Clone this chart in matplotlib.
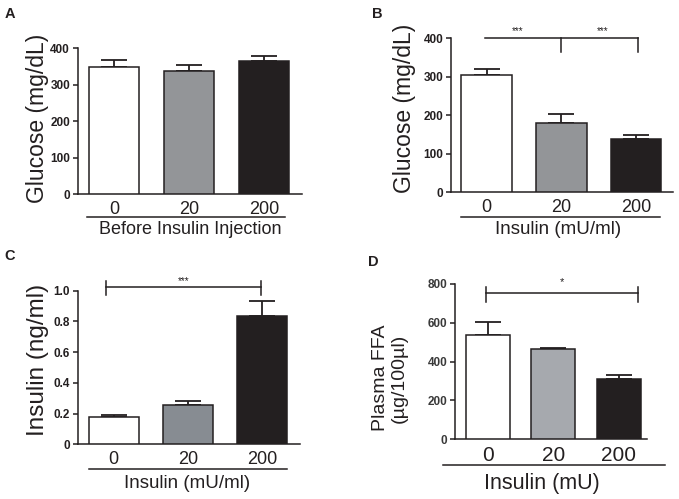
import matplotlib
matplotlib.use("Agg")
import matplotlib.pyplot as plt
from matplotlib.lines import Line2D

plt.rcParams['font.family'] = ['Liberation Sans', 'DejaVu Sans']

# Values
doses = ["0", "20", "200"]

glucose_before = [348, 337, 366]
glucose_before_err = [21, 18, 13]

glucose_after = [305, 179, 139]
glucose_after_err = [16, 24, 10]

insulin_level = [0.176, 0.254, 0.837]
insulin_level_err = [0.017, 0.030, 0.096]

plasma_ffa = [538, 464, 310]
plasma_ffa_err = [66, 7, 20]

W, H = 679, 499
INK = "#231f20"


def fx(x):
    return x / W


def fy(y):
    return 1 - y / H


def make_axes(fig, left, top, right, bottom):
    return fig.add_axes([fx(left), fy(bottom), (right - left) / W, (bottom - top) / H])


def bar_panel(ax, vals, errs, grey, ylim, yticks, yticklabels, xlim, width, tick_fs, tickcol=INK):
    x = range(len(vals))
    ax.bar(x, vals, width=width, color=["white", grey, INK], edgecolor=INK, linewidth=1.1, zorder=3)
    ax.errorbar(x, vals, yerr=[[0] * len(errs), errs], fmt="none", ecolor=INK,
                elinewidth=1.3, capsize=9.4, capthick=1.3, zorder=2)
    ax.set_ylim(*ylim)
    ax.set_xlim(*xlim)
    ax.set_yticks(yticks)
    ax.set_yticklabels(yticklabels, fontsize=8.5, fontweight="bold", color=tickcol)
    ax.set_xticks(list(x))
    ax.set_xticklabels(doses, fontsize=tick_fs, color=INK)
    ax.tick_params(axis="x", length=0, pad=5)
    ax.tick_params(axis="y", length=3.5, width=1.1, pad=2, color=INK)
    for s in ["top", "right"]:
        ax.spines[s].set_visible(False)
    for s in ["left", "bottom"]:
        ax.spines[s].set_linewidth(1.1)
        ax.spines[s].set_color(INK)


def hline(fig, x0, x1, y):
    fig.add_artist(Line2D([fx(x0), fx(x1)], [fy(y), fy(y)], color=INK, linewidth=1.1,
                          transform=fig.transFigure))


fig = plt.figure(figsize=(6.79, 4.99), dpi=100)

# Panel A
axA = make_axes(fig, 77.7, 48.3, 301.7, 194.3)
bar_panel(axA, glucose_before, glucose_before_err, "#939598", (0, 400),
          [0, 100, 200, 300, 400], ["0", "100", "200", "300", "400"],
          (-0.484, 2.503), 0.667, 13)
hline(fig, 87, 285, 217)
fig.text(fx(190), fy(230), "Before Insulin Injection", ha="center", va="center", fontsize=13, color=INK)
fig.text(fx(38), fy(118), "Glucose (mg/dL)", ha="center", va="center", rotation=90, fontsize=16.5, color=INK)
fig.text(fx(5), fy(14), "A", ha="left", va="center", fontsize=10.5, fontweight="bold", color=INK)

# Panel B
axB = make_axes(fig, 451, 38.3, 673, 192.3)
bar_panel(axB, glucose_after, glucose_after_err, "#939598", (0, 400),
          [0, 100, 200, 300, 400], ["0", "100", "200", "300", "400"],
          (-0.475, 2.495), 0.678, 13)
axB.plot([-0.02, 2.03], [400, 400], color=INK, linewidth=1.1, clip_on=False, zorder=4)
axB.plot([1, 1], [400, 364], color=INK, linewidth=1.1, clip_on=False, zorder=4)
axB.plot([2.03, 2.03], [400, 364], color=INK, linewidth=1.1, clip_on=False, zorder=4)
axB.text(0.41, 405, "***", ha="center", va="bottom", fontsize=7, color=INK)
axB.text(1.56, 405, "***", ha="center", va="bottom", fontsize=7, color=INK)
hline(fig, 461, 660, 217)
fig.text(fx(558), fy(230), "Insulin (mU/ml)", ha="center", va="center", fontsize=13.5, color=INK)
fig.text(fx(405), fy(108), "Glucose (mg/dL)", ha="center", va="center", rotation=90, fontsize=16.5, color=INK)
fig.text(fx(372), fy(14), "B", ha="left", va="center", fontsize=10.5, fontweight="bold", color=INK)

# Panel C
axC = make_axes(fig, 77.7, 290.7, 300, 444.3)
bar_panel(axC, insulin_level, insulin_level_err, "#878c92", (0, 1.0),
          [0, 0.2, 0.4, 0.6, 0.8, 1.0], ["0", "0.2", "0.4", "0.6", "0.8", "1.0"],
          (-0.485, 2.51), 0.674, 13)
axC.plot([-0.1, 1.98], [1.026, 1.026], color=INK, linewidth=1.1, clip_on=False, zorder=4)
axC.plot([-0.1, -0.1], [0.97, 1.06], color=INK, linewidth=1.1, clip_on=False, zorder=4)
axC.plot([1.98, 1.98], [0.97, 1.06], color=INK, linewidth=1.1, clip_on=False, zorder=4)
axC.text(0.94, 1.028, "***", ha="center", va="bottom", fontsize=7, color=INK)
hline(fig, 89, 287, 469)
fig.text(fx(187), fy(483), "Insulin (mU/ml)", ha="center", va="center", fontsize=13.5, color=INK)
fig.text(fx(38), fy(360), "Insulin (ng/ml)", ha="center", va="center", rotation=90, fontsize=17.5, color=INK)
fig.text(fx(4), fy(256), "C", ha="left", va="center", fontsize=10.5, fontweight="bold", color=INK)

# Panel D
axD = make_axes(fig, 455, 284, 647, 439)
bar_panel(axD, plasma_ffa, plasma_ffa_err, "#a6a9ae", (0, 800),
          [0, 200, 400, 600, 800], ["0", "200", "400", "600", "800"],
          (-0.504, 2.43), 0.672, 15, tickcol="#3a3a3a")
axD.plot([-0.03, 2.29], [755, 755], color=INK, linewidth=1.1, clip_on=False, zorder=4)
axD.plot([-0.03, -0.03], [705, 786], color=INK, linewidth=1.1, clip_on=False, zorder=4)
axD.plot([2.29, 2.29], [705, 786], color=INK, linewidth=1.1, clip_on=False, zorder=4)
axD.text(1.13, 785, "*", ha="center", va="bottom", fontsize=8, color=INK)
hline(fig, 443, 665, 465)
fig.text(fx(542), fy(484), "Insulin (mU)", ha="center", va="center", fontsize=15.5, color=INK)
fig.text(fx(390), fy(378), "Plasma FFA\n(µg/100µl)", ha="center", va="center", rotation=90,
         fontsize=14, linespacing=1.1, color=INK)
fig.text(fx(368), fy(262), "D", ha="left", va="center", fontsize=10.5, fontweight="bold", color=INK)

fig.savefig("out.png", dpi=100)
